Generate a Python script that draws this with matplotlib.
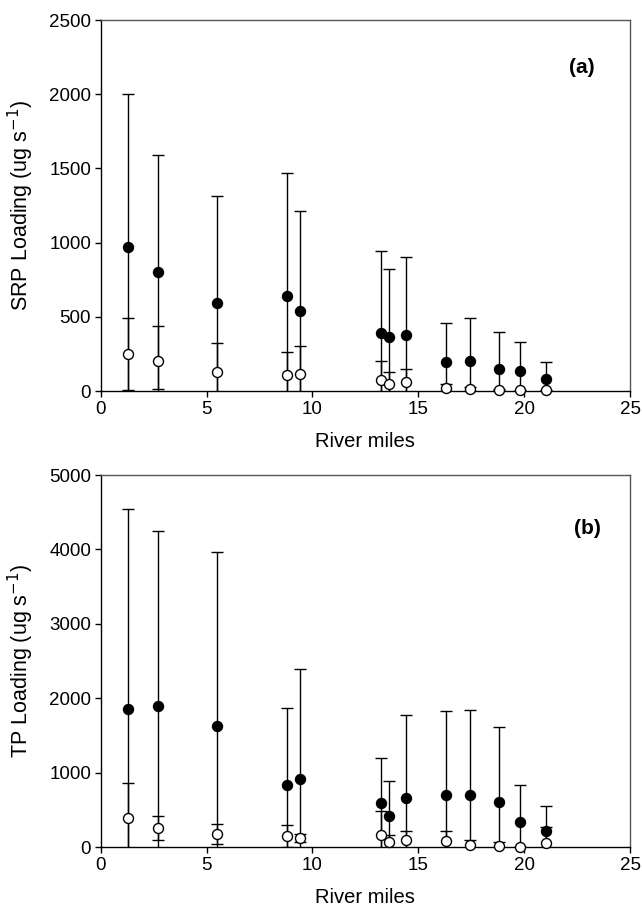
import matplotlib
matplotlib.use('Agg')
import matplotlib.pyplot as plt

plt.rcParams['font.family'] = ['Liberation Sans', 'DejaVu Sans']

# river mile positions of the sampling sites
miles = [1.29, 2.70, 5.50, 8.81, 9.41, 13.23, 13.62, 14.43, 16.32, 17.42, 18.83, 19.82, 21.04]

# (a) SRP loading, filled = first series, open = second series
srp_fill = [970, 804, 593, 640, 539, 393, 364, 375, 193, 202, 146, 137, 83]
srp_fill_sd = [1030, 788, 719, 829, 672, 550, 458, 526, 267, 290, 254, 193, 114]
srp_open = [249, 204, 126, 108, 117, 74, 45, 58, 22, 13, 9, 4, 4]
srp_open_sd = [243, 236, 195, 153, 188, 126, 81, 88, 23, 12, 5, 3, 3]

# (b) TP loading
tp_fill = [1859, 1891, 1631, 829, 910, 587, 421, 663, 703, 695, 609, 332, 219]
tp_fill_sd = [2688, 2356, 2334, 1035, 1487, 613, 462, 1115, 1129, 1146, 1000, 497, 332]
tp_open = [394, 260, 175, 148, 117, 165, 63, 90, 77, 27, 17, 0, 58]
tp_open_sd = [470, 161, 130, 148, 53, 315, 94, 129, 138, 67, 54, 0, 215]


def panel(ax, fill, fill_sd, opn, opn_sd, ymax, ystep, ylabel, tag, tagpos):
    for y, e, face in [(fill, fill_sd, 'black'), (opn, opn_sd, 'white')]:
        ax.errorbar(miles, y, yerr=e, fmt='none', ecolor='black', elinewidth=1.0,
                    capsize=4.5, capthick=1.0)
        ax.plot(miles, y, 'o', ms=7.2, mfc=face, mec='black', mew=1.0,
                clip_on=False, zorder=3)
    ax.set_xlim(0, 25)
    ax.set_ylim(0, ymax)
    ax.set_xticks(range(0, 26, 5))
    ax.set_yticks(range(0, ymax + 1, ystep))
    ax.tick_params(direction='out', length=4, width=1, labelsize=13.5, pad=3)
    for s in ['top', 'right']:
        ax.spines[s].set_color('#555555')
        ax.spines[s].set_linewidth(1.0)
    for s in ['left', 'bottom']:
        ax.spines[s].set_linewidth(1.0)
    ax.set_xlabel('River miles', fontsize=14.5)
    ax.set_ylabel(ylabel, fontsize=15.5)
    ax.xaxis.set_label_coords(0.5, -0.11)
    ax.yaxis.set_label_coords(-0.122, 0.5)
    ax.text(tagpos[0], tagpos[1], tag, transform=ax.transAxes, fontsize=15,
            fontweight='bold', ha='center', va='center')


fig = plt.figure(figsize=(6.42, 9.10), dpi=100)
ax1 = fig.add_axes([0.1569, 0.5703, 0.8245, 0.4077])
ax2 = fig.add_axes([0.1569, 0.0692, 0.8245, 0.4088])

panel(ax1, srp_fill, srp_fill_sd, srp_open, srp_open_sd, 2500, 500,
      'SRP Loading (ug s$^{-1}$)', '(a)', (0.909, 0.873))
panel(ax2, tp_fill, tp_fill_sd, tp_open, tp_open_sd, 5000, 1000,
      'TP Loading (ug s$^{-1}$)', '(b)', (0.92, 0.857))

fig.savefig('out.png', dpi=100)
